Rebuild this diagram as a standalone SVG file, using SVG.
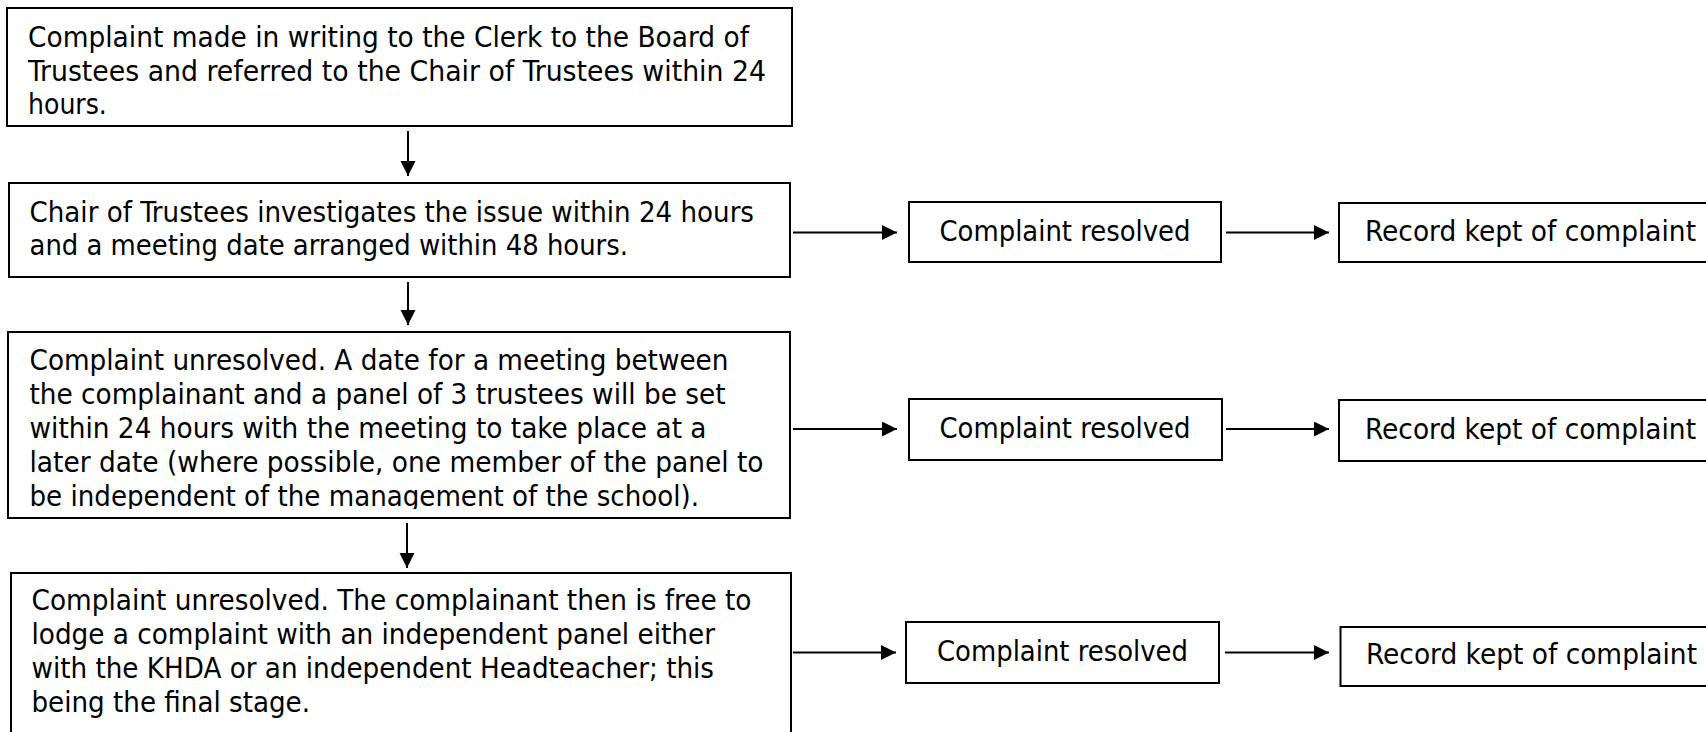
<svg xmlns="http://www.w3.org/2000/svg" width="1706" height="732" viewBox="0 0 1706 732">
<style>
.box{fill:#fff;stroke:#000;stroke-width:2}
.t{font-family:"DejaVu Sans Condensed","DejaVu Sans",sans-serif;font-stretch:condensed;font-size:28px;fill:#000}
.c{stroke:#000;stroke-width:2;fill:none;marker-end:url(#ah)}
</style>
<defs>
<marker id="ah" markerUnits="userSpaceOnUse" markerWidth="16" markerHeight="16" refX="15" refY="7.5" orient="auto">
<path d="M0,0 L15,7.5 L0,15 z" fill="#000"/>
</marker>
<clipPath id="clip3"><rect x="8" y="332" width="782" height="177"/></clipPath>
</defs>
<rect width="1706" height="732" fill="#fff"/>
<g id="connectors">
<line class="c" x1="408" y1="131" x2="408" y2="176"/>
<line class="c" x1="408" y1="282" x2="408" y2="325"/>
<line class="c" x1="407" y1="523" x2="407" y2="568"/>
<line class="c" x1="793" y1="232.5" x2="897" y2="232.5"/>
<line class="c" x1="1226" y1="232.5" x2="1329" y2="232.5"/>
<line class="c" x1="793" y1="429" x2="897" y2="429"/>
<line class="c" x1="1226" y1="429" x2="1329" y2="429"/>
<line class="c" x1="793" y1="652.5" x2="896" y2="652.5"/>
<line class="c" x1="1225" y1="652.5" x2="1329" y2="652.5"/>
</g>
<g id="step1">
<rect class="box" x="7" y="8" width="785" height="118"/>
<text class="t" x="28" y="47" textLength="721" lengthAdjust="spacingAndGlyphs">Complaint made in writing to the Clerk to the Board of</text>
<text class="t" x="28" y="80.6" textLength="738" lengthAdjust="spacingAndGlyphs">Trustees and referred to the Chair of Trustees within 24</text>
<text class="t" x="28" y="114.2">hours.</text>
</g>
<g id="step2">
<rect class="box" x="9" y="183" width="781" height="94"/>
<text class="t" x="29.5" y="221.7" textLength="724.5" lengthAdjust="spacingAndGlyphs">Chair of Trustees investigates the issue within 24 hours</text>
<text class="t" x="29.5" y="255.3" textLength="598.5" lengthAdjust="spacingAndGlyphs">and a meeting date arranged within 48 hours.</text>
</g>
<g id="step3">
<rect class="box" x="8" y="332" width="782" height="186"/>
<g clip-path="url(#clip3)">
<text class="t" x="29.5" y="370" textLength="699" lengthAdjust="spacingAndGlyphs">Complaint unresolved. A date for a meeting between</text>
<text class="t" x="29.5" y="404" textLength="696" lengthAdjust="spacingAndGlyphs">the complainant and a panel of 3 trustees will be set</text>
<text class="t" x="29.5" y="437.8" textLength="677" lengthAdjust="spacingAndGlyphs">within 24 hours with the meeting to take place at a</text>
<text class="t" x="29.5" y="471.7" textLength="734" lengthAdjust="spacingAndGlyphs">later date (where possible, one member of the panel to</text>
<text class="t" x="29.5" y="505.5" textLength="669.5" lengthAdjust="spacingAndGlyphs">be independent of the management of the school).</text>
</g>
</g>
<g id="step4">
<rect class="box" x="11" y="573" width="780" height="180"/>
<text class="t" x="31.5" y="610" textLength="720" lengthAdjust="spacingAndGlyphs">Complaint unresolved. The complainant then is free to</text>
<text class="t" x="31.5" y="644" textLength="683.5" lengthAdjust="spacingAndGlyphs">lodge a complaint with an independent panel either</text>
<text class="t" x="31.5" y="678" textLength="682.5" lengthAdjust="spacingAndGlyphs">with the KHDA or an independent Headteacher; this</text>
<text class="t" x="31.5" y="712" textLength="278.5" lengthAdjust="spacingAndGlyphs">being the final stage.</text>
</g>
<g id="resolved1">
<rect class="box" x="909" y="202" width="312" height="60"/>
<text class="t" x="939.5" y="240.7" textLength="251" lengthAdjust="spacingAndGlyphs">Complaint resolved</text>
</g>
<g id="record1">
<rect class="box" x="1339" y="203" width="390" height="59"/>
<text class="t" x="1365" y="240.7" textLength="331" lengthAdjust="spacingAndGlyphs">Record kept of complaint</text>
</g>
<g id="resolved2">
<rect class="box" x="909" y="399" width="313" height="61"/>
<text class="t" x="939.5" y="438" textLength="251" lengthAdjust="spacingAndGlyphs">Complaint resolved</text>
</g>
<g id="record2">
<rect class="box" x="1339" y="400" width="390" height="61"/>
<text class="t" x="1365" y="439" textLength="331" lengthAdjust="spacingAndGlyphs">Record kept of complaint</text>
</g>
<g id="resolved3">
<rect class="box" x="906" y="622" width="313" height="61"/>
<text class="t" x="937" y="660.5" textLength="251" lengthAdjust="spacingAndGlyphs">Complaint resolved</text>
</g>
<g id="record3">
<rect class="box" x="1340.5" y="627" width="390" height="59"/>
<text class="t" x="1366" y="664" textLength="331" lengthAdjust="spacingAndGlyphs">Record kept of complaint</text>
</g>
</svg>
